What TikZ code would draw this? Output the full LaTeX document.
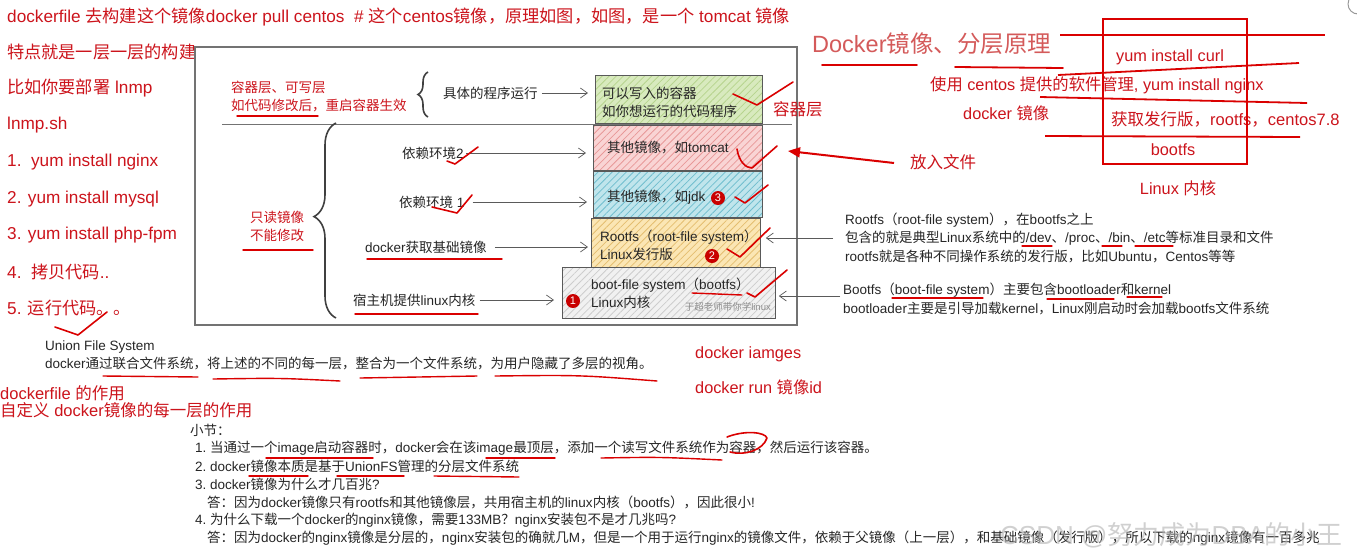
\documentclass[tikz,border=0pt]{standalone}
\usepackage{fontspec}
\setmainfont{Liberation Sans}
\newfontfamily\cjkf{Noto Sans CJK SC}
\newfontfamily\latf{Liberation Sans}
\XeTeXinterchartokenstate=1
\newXeTeXintercharclass\cjkcls
\newcount\cc
\def\setcls#1#2{\cc=#1\relax\loop\XeTeXcharclass\cc=\cjkcls\relax\ifnum\cc<#2\relax\advance\cc by 1\relax\repeat}
\setcls{"3000}{"303F}
\setcls{"4E00}{"9FFF}
\setcls{"FF00}{"FFEF}
\XeTeXinterchartoks 0 \cjkcls = {\cjkf}
\XeTeXinterchartoks 4095 \cjkcls = {\cjkf}
\XeTeXinterchartoks \cjkcls 0 = {\latf}
\XeTeXinterchartoks \cjkcls 4095 = {\latf}
\usetikzlibrary{arrows.meta,patterns.meta,decorations.pathreplacing,calc}
\definecolor{redc}{RGB}{204,20,28}
\definecolor{redl}{RGB}{218,0,0}
\definecolor{titlec}{RGB}{212,90,90}
\definecolor{boxc}{RGB}{115,115,115}
\definecolor{arrc}{RGB}{90,90,90}
\definecolor{gfill}{RGB}{216,234,190}
\definecolor{ghatch}{RGB}{182,212,142}
\definecolor{pfill}{RGB}{249,212,212}
\definecolor{phatch}{RGB}{232,152,152}
\definecolor{bfill}{RGB}{192,229,236}
\definecolor{bhatch}{RGB}{112,190,206}
\definecolor{yfill}{RGB}{251,230,180}
\definecolor{yhatch}{RGB}{228,190,112}
\definecolor{kfill}{RGB}{241,241,241}
\definecolor{khatch}{RGB}{205,205,205}
\newcommand\fsz[1]{\fontsize{#1}{#1}\selectfont}
\begin{document}
\begin{tikzpicture}[x=1pt,y=-1pt,
 rt/.style={text=redc,font=\fsz{17.2},anchor=west,inner sep=0pt},
 bt/.style={text=black!85,font=\fsz{13.5},anchor=west,inner sep=0pt},
 st/.style={text=black!85,font=\fsz{13.5},anchor=west,inner sep=0pt},
 ul/.style={draw=redl,line width=1.4pt,line cap=round},
 chk/.style={draw=redl,line width=1.6pt,line cap=round,line join=round},
 garr/.style={draw=arrc,line width=0.7pt,-{Straight Barb[length=7pt,width=10pt,line width=0.7pt]}},
 layer/.style={draw=black!65,line width=0.8pt,anchor=north west,inner sep=0pt,
   pattern={Lines[angle=45,distance=5pt,line width=0.8pt]}},
 num/.style={circle,fill=redl!92!black,text=white,font=\fsz{11},inner sep=0pt,minimum size=14pt},
 brc/.style={draw=black!75,line width=1.6pt,decorate},
]
\useasboundingbox (0,0) rectangle (1357,558);
\fill[white] (0,0) rectangle (1357,558);

% ---------- left red notes ----------
\node[rt] (t1) at (7,17) {dockerfile 去构建这个镜像docker pull centos~~\# 这个centos镜像，原理如图，如图，是一个 tomcat 镜像};
\node[rt] (t2) at (7,52) {特点就是一层一层的构建};
\node[rt] (t3) at (7,88) {比如你要部署 lnmp};
\node[rt] (t4) at (7,125) {lnmp.sh};
\node[rt] (t5) at (7,162) {1.~~yum install nginx};
\node[rt] (t6) at (7,199) {2. yum install mysql};
\node[rt] (t7) at (7,235) {3. yum install php-fpm};
\node[rt] (t8) at (7,272) {4.~~拷贝代码..};
\node[rt] (t9) at (7,308) {5. 运行代码。。};
\draw[chk] (55,327) -- (78,335) -- (107,312);

% ---------- main frame ----------
\draw[boxc,line width=1.2pt] (195,47) rectangle (797,325);
\draw[boxc,line width=1pt] (222,124) -- (792,124);

\node[rt,font=\fsz{13.5}] (cw1) at (231,87) {容器层、可写层};
\node[rt,font=\fsz{13.5}] (cw2) at (231,105) {如代码修改后，重启容器生效};
\draw[ul] (237,116) -- (318,116);
\draw[brc,decoration={brace,amplitude=10pt}] (428,117) -- (428,72);

\node[rt,font=\fsz{13.5}] (ro1) at (250,217) {只读镜像};
\node[rt,font=\fsz{13.5}] (ro2) at (250,235) {不能修改};
\draw[ul] (243,250) -- (313,250);
\draw[brc,decoration={brace,amplitude=22pt,aspect=0.52}] (336,318) -- (336,123);

\node[bt] (run) at (443,93) {具体的程序运行};
\node[bt] (dep2) at (402,153) {依赖环境2};
\node[bt] (dep1) at (399,202) {依赖环境 1};
\node[bt] (base) at (365,247) {docker获取基础镜像};
\node[bt] (host) at (353,300) {宿主机提供linux内核};
\draw[ul] (367,259) -- (502,259);
\draw[ul] (355,314) -- (478,314);

% ---------- layer stack ----------
\node[layer,preaction={fill=gfill},pattern color=ghatch,minimum width=167pt,minimum height=48pt] (Lc) at (595,75) {};
\node[layer,preaction={fill=pfill},pattern color=phatch,minimum width=169pt,minimum height=45pt] (Lt) at (593,125) {};
\node[layer,preaction={fill=bfill},pattern color=bhatch,minimum width=169pt,minimum height=46pt] (Lb) at (593,171) {};
\node[layer,preaction={fill=yfill},pattern color=yhatch,minimum width=169pt,minimum height=49pt] (Ly) at (591,218) {};
\node[layer,preaction={fill=kfill},pattern color=khatch,minimum width=213pt,minimum height=51pt] (Lg) at (562,267) {};

\node[bt] (c1) at (602,93) {可以写入的容器};
\node[bt] (c2) at (602,111) {如你想运行的代码程序};
\node[bt] (tom) at (607,148) {其他镜像，如tomcat};
\node[bt] (jdk) at (607,197) {其他镜像，如jdk};
\node[num] (n3) at (718,198) {3};
\node[bt] (rf1) at (600,237) {Rootfs（root-file system）};
\node[bt] (rf2) at (600,254) {Linux发行版};
\node[num] (n2) at (712,256) {2};
\node[bt] (bf1) at (591,285) {boot-file system（bootfs）};
\node[bt] (bf2) at (591,302) {Linux内核};
\node[num] (n1) at (573,301) {1};
\node[text=black!45,font=\fsz{9.5},anchor=east,inner sep=0pt] (wm) at (771,307) {于超老师带你学linux};
\draw[ul] (692,293) -- (742,295);

% arrows into stack
\draw[garr,shorten <=4pt,shorten >=7pt] (run.east) -- (run.east -| Lc.west);
\draw[garr,shorten <=2pt,shorten >=7pt] (dep2.east) -- (dep2.east -| Lt.west);
\draw[garr,shorten <=8pt,shorten >=6pt] (dep1.east) -- (dep1.east -| Lb.west);
\draw[garr,shorten <=8pt,shorten >=3pt] (base.east) -- (base.east -| Ly.west);
\draw[garr,shorten <=4pt,shorten >=8pt] (host.east) -- (host.east -| Lg.west);

% red checks
\draw[chk] (447,161) -- (455,164) -- (478,147);
\draw[chk] (432,207) -- (457,213) -- (472,195);
\draw[chk] (733,94) -- (757,105) -- (793,82);
\draw[chk] (737,149) .. controls (739,162) and (746,168) .. (752,168) -- (777,146);
\draw[chk] (735,197) -- (745,203) -- (768,185);
\draw[chk] (727,249) -- (740,257) -- (770,228);
\draw[chk] (747,293) -- (755,297) -- (787,270);
\node[rt,font=\fsz{16.5}] (clay) at (773,109) {容器层};

% ---------- right side ----------
\node[text=titlec,font=\fsz{23.5},anchor=west,inner sep=0pt] (title) at (812,44) {Docker镜像、分层原理};
\draw[ul,line width=1.8pt] (822,65) -- (917,65);
\draw[ul,line width=1.8pt] (955,67) -- (1063,68);

\node[rt,font=\fsz{16.5}] (fr) at (910,162) {放入文件};
\coordinate (frtip) at (788,151);
\draw[redl,line width=2pt,-{Triangle[length=12pt,width=10pt]}] ([xshift=-16pt,yshift=-1pt]fr.west) -- (frtip);

\node[rt,font=\fsz{16.3},anchor=center] (yc) at (1170,57) {yum install curl};
\node[rt,font=\fsz{16.3}] (yn) at (930,85) {使用 centos 提供的软件管理, yum install nginx};
\node[rt,font=\fsz{16.3}] (dm) at (963,113) {docker 镜像};
\node[rt,font=\fsz{16.5}] (gq) at (1111,119) {获取发行版，rootfs，centos7.8};
\node[rt,font=\fsz{16.3},anchor=center] (bfs) at (1173,150) {bootfs};
\node[rt,font=\fsz{16.3},anchor=center] (lk) at (1178,188) {Linux 内核};
\draw[redl,line width=2pt] (1103,19) rectangle (1247,164);
\draw[redl,line width=1.8pt] (1060,35) -- (1325,35);
\draw[redl,line width=1.8pt] (1058,75) -- (1299,63);
\draw[redl,line width=1.8pt] (1040,97) -- (1307,103);
\draw[redl,line width=1.8pt] (1045,136) -- (1300,137);

\node[bt] (r1) at (845,220) {Rootfs（root-file system），在bootfs之上};
\node[bt] (r2) at (845,238) {包含的就是典型Linux系统中的/dev、/proc、/bin、/etc等标准目录和文件};
\node[bt] (r3) at (845,256) {rootfs就是各种不同操作系统的发行版，比如Ubuntu，Centos等等};
\node[bt] (r4) at (843,290) {Bootfs（boot-file system）主要包含bootloader和kernel};
\node[bt] (r5) at (843,308) {bootloader主要是引导加载kernel，Linux刚启动时会加载bootfs文件系统};
\draw[ul,line width=1.2pt] (1022,246) -- (1052,246);
\draw[ul,line width=1.2pt] (1102,246) -- (1122,246);
\draw[ul,line width=1.2pt] (1135,246) -- (1173,246);
\draw[ul,line width=1.2pt] (892,298) -- (983,298);
\draw[ul,line width=1.2pt] (1047,299) -- (1114,299);
\draw[ul,line width=1.2pt] (1127,297) -- (1162,297);
\draw[garr,shorten >=5pt] ([xshift=-12pt]r2.west) -- (r2.west -| Ly.east);
\draw[garr,shorten >=3pt] ([xshift=-3pt,yshift=-6pt]r4.west) -- ([yshift=-6pt]r4.west -| Lg.east);

% ---------- bottom ----------
\node[bt] (ufs) at (45,347) {Union File System};
\node[bt] (ufs2) at (45,363) {docker通过联合文件系统，将上述的不同的每一层，整合为一个文件系统，为用户隐藏了多层的视角。};
\draw[ul] (103,376) -- (198,377);
\draw[ul] (213,379) .. controls (280,378) .. (340,381);
\draw[ul] (360,378) -- (477,376);
\draw[ul] (495,376) .. controls (580,375) .. (657,381);
\node[rt,font=\fsz{16.3}] (da) at (695,354) {docker iamges};
\node[rt,font=\fsz{16.3}] (dr) at (695,387) {docker run 镜像id};
\node[rt,font=\fsz{16.5}] (df1) at (0,393) {dockerfile 的作用};
\node[rt,font=\fsz{16.5}] (df2) at (0,410) {自定义 docker镜像的每一层的作用};

\node[st] (s0) at (190,430) {小节：};
\node[st] (s1) at (195,448) {\makebox[15pt][l]{1.}当通过一个image启动容器时，docker会在该image最顶层，添加一个读写文件系统作为容器，然后运行该容器。};
\node[st] (s2) at (195,466) {\makebox[15pt][l]{2.}docker镜像本质是基于UnionFS管理的分层文件系统};
\node[st] (s3) at (195,484) {\makebox[15pt][l]{3.}docker镜像为什么才几百兆?};
\node[st] (s4) at (207,502) {答：因为docker镜像只有rootfs和其他镜像层，共用宿主机的linux内核（bootfs），因此很小!};
\node[st] (s5) at (195,520) {\makebox[15pt][l]{4.}为什么下载一个docker的nginx镜像，需要133MB？nginx安装包不是才几兆吗?};
\node[st] (s6) at (207,538) {答：因为docker的nginx镜像是分层的，nginx安装包的确就几M，但是一个用于运行nginx的镜像文件，依赖于父镜像（上一层），和基础镜像（发行版），所以下载的nginx镜像有一百多兆};
\draw[ul] (266,458) -- (373,458);
\draw[ul] (486,458) -- (555,458);
\draw[ul] (601,458) .. controls (660,457) .. (722,460);
\draw[ul] (249,476) -- (308,476);
\draw[ul] (337,476) -- (404,476);
\draw[ul] (434,476) -- (519,477);
\draw[chk] (727,437) .. controls (745,430) and (765,432) .. (767,438) .. controls (763,450) and (745,456) .. (730,452);

\node[text=black!30,opacity=0.6,font=\fsz{26},anchor=west,inner sep=0pt] (csdn) at (1000,535) {CSDN @努力成为DBA的小王};
\draw[black!40,line width=1pt] (1358,4) circle (10);
\end{tikzpicture}
\end{document}
